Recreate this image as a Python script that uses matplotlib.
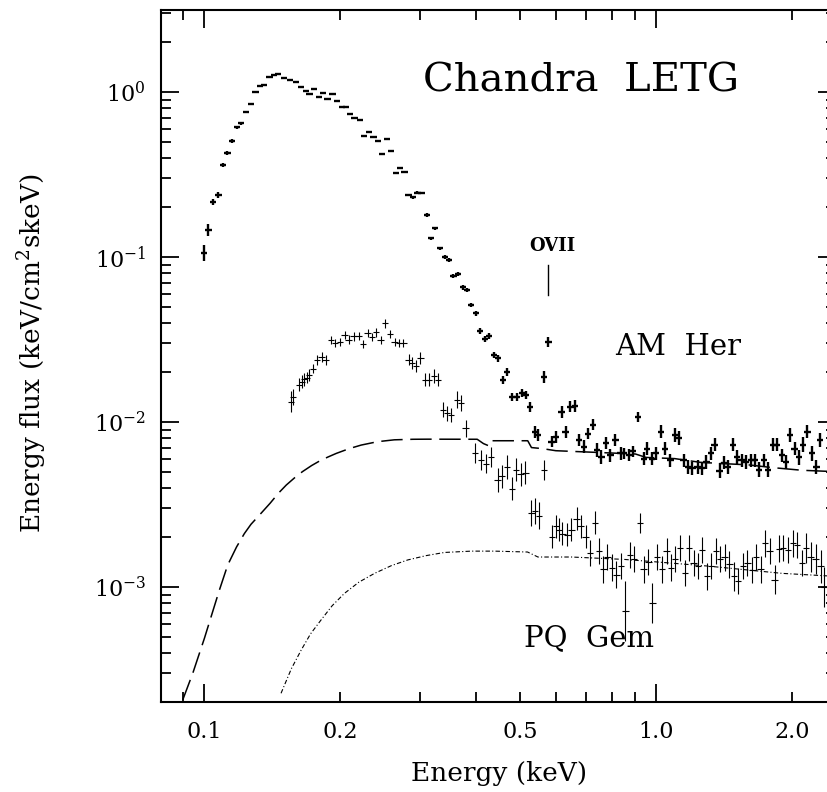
import matplotlib
matplotlib.use("Agg")
import matplotlib.pyplot as plt
import numpy as np
from matplotlib.ticker import FixedLocator, NullFormatter, LogFormatterMathtext, LogLocator

plt.rcParams['font.family'] = ['DejaVu Serif']
plt.rcParams['mathtext.fontset'] = 'dejavuserif'

# --- AM Her spectrum (keV, keV/cm^2 s keV), errors in dex
am_E = [0.100, 0.1022, 0.1048, 0.1076, 0.1100, 0.1126, 0.1153, 0.1181, 0.1207, 0.1236,
        0.1268, 0.1299, 0.1330, 0.1358, 0.1395, 0.1428, 0.1457, 0.1502, 0.1549, 0.1598,
        0.1639, 0.1678, 0.1710, 0.1751, 0.1794, 0.1831, 0.1874, 0.1923, 0.1966, 0.2016,
        0.2057, 0.2102, 0.2152, 0.2212, 0.2257, 0.2314, 0.2369, 0.2422, 0.2478, 0.2536,
        0.2589, 0.2656, 0.2715, 0.2775, 0.2832, 0.2895, 0.2964, 0.3027, 0.3108, 0.3178,
        0.3246, 0.3328, 0.3414, 0.3484, 0.3562, 0.3641, 0.3735, 0.3822, 0.3894, 0.3994,
        0.4076, 0.4181, 0.4273, 0.4376, 0.4473, 0.4589, 0.4683, 0.4797, 0.4930, 0.5042,
        0.5155, 0.5263, 0.5391, 0.5482, 0.5655, 0.5780, 0.5870, 0.6000, 0.6178, 0.6305,
        0.6465, 0.6607, 0.6742, 0.6916, 0.7069, 0.7240, 0.7404, 0.7570, 0.7752, 0.7926,
        0.8129, 0.8341, 0.8481, 0.8697, 0.8877, 0.9125, 0.9391, 0.9556, 0.9800, 1.000,
        1.026, 1.045, 1.076, 1.103, 1.125, 1.150, 1.175, 1.203, 1.235, 1.265,
        1.292, 1.321, 1.347, 1.382, 1.412, 1.441, 1.477, 1.510, 1.545, 1.579,
        1.619, 1.652, 1.688, 1.731, 1.768, 1.813, 1.850, 1.896, 1.937, 1.980,
        2.024, 2.068, 2.116, 2.162, 2.215, 2.262, 2.307]
am_F = [0.106, 0.146, 0.216, 0.238, 0.361, 0.429, 0.505, 0.611, 0.646, 0.760,
        0.846, 1.00, 1.087, 1.10, 1.24, 1.27, 1.29, 1.21, 1.18, 1.145,
        1.07, 1.02, 0.972, 1.04, 0.929, 0.990, 0.903, 0.968, 0.886, 0.815,
        0.815, 0.733, 0.693, 0.677, 0.544, 0.570, 0.537, 0.505, 0.421, 0.517,
        0.437, 0.322, 0.345, 0.329, 0.237, 0.230, 0.245, 0.244, 0.180, 0.130,
        0.149, 0.113, 0.100, 0.0963, 0.0767, 0.0790, 0.0655, 0.0631, 0.0512, 0.0456,
        0.0358, 0.0317, 0.0333, 0.0255, 0.0243, 0.0180, 0.0202, 0.0142, 0.0142, 0.0150,
        0.0146, 0.0124, 0.00873, 0.00834, 0.0188, 0.0307, 0.0076, 0.0081, 0.01154, 0.00873,
        0.0124, 0.01254, 0.00778, 0.00709, 0.00851, 0.00963, 0.00676, 0.00613, 0.00746, 0.00630,
        0.00778, 0.00646, 0.00646, 0.00630, 0.00663, 0.01078, 0.00600, 0.00690, 0.00600, 0.00646,
        0.00873, 0.00690, 0.00587, 0.00834, 0.00799, 0.00587, 0.00534, 0.00523, 0.00534, 0.00523,
        0.00573, 0.00646, 0.00727, 0.00508, 0.00566, 0.00534, 0.00727, 0.00613, 0.00587, 0.00573,
        0.00587, 0.00587, 0.00513, 0.00587, 0.00513, 0.00727, 0.00727, 0.00630, 0.00573, 0.00834,
        0.00690, 0.00613, 0.00727, 0.00873, 0.00646, 0.00534, 0.00778]
am_err = [0.05, 0.035, 0.02, 0.02, 0.015, 0.012, 0.010, 0.008, 0.008, 0.006,
          0.005, 0.004, 0.004, 0.004, 0.004, 0.004, 0.004, 0.004, 0.004, 0.004,
          0.004, 0.004, 0.004, 0.004, 0.004, 0.004, 0.004, 0.004, 0.004, 0.004,
          0.004, 0.004, 0.004, 0.005, 0.005, 0.005, 0.005, 0.005, 0.006, 0.006,
          0.006, 0.007, 0.007, 0.007, 0.008, 0.008, 0.008, 0.008, 0.010, 0.010,
          0.010, 0.010, 0.012, 0.012, 0.012, 0.012, 0.014, 0.014, 0.015, 0.015,
          0.018, 0.018, 0.018, 0.020, 0.020, 0.025, 0.025, 0.025, 0.025, 0.025,
          0.025, 0.030, 0.035, 0.035, 0.035, 0.030, 0.035, 0.035, 0.035, 0.035,
          0.035, 0.035, 0.035, 0.040, 0.035, 0.035, 0.040, 0.040, 0.035, 0.040,
          0.035, 0.040, 0.035, 0.035, 0.035, 0.030, 0.040, 0.040, 0.040, 0.040,
          0.040, 0.040, 0.040, 0.040, 0.040, 0.040, 0.040, 0.040, 0.040, 0.040,
          0.040, 0.040, 0.040, 0.045, 0.040, 0.040, 0.040, 0.040, 0.040, 0.040,
          0.040, 0.040, 0.045, 0.040, 0.045, 0.040, 0.040, 0.040, 0.040, 0.040,
          0.040, 0.045, 0.045, 0.040, 0.045, 0.045, 0.045]

# --- PQ Gem spectrum
pq_E = [0.1556, 0.1575, 0.1624, 0.1644, 0.1665, 0.1687, 0.1707, 0.1739, 0.1780, 0.1820,
        0.1857, 0.1906, 0.1949, 0.2000, 0.2045, 0.2087, 0.2141, 0.2197, 0.2246, 0.2300,
        0.2350, 0.2401, 0.2458, 0.2511, 0.2575, 0.2640, 0.2697, 0.2760, 0.2834, 0.2881,
        0.2939, 0.3011, 0.3085, 0.3146, 0.3224, 0.3292, 0.3374, 0.3448, 0.3518, 0.3624,
        0.3697, 0.3790, 0.3976, 0.4097, 0.4202, 0.4310, 0.4460, 0.4553, 0.4675, 0.4797,
        0.4905, 0.5015, 0.5138, 0.5297, 0.5405, 0.5507, 0.5649, 0.5891, 0.5995, 0.6101,
        0.6206, 0.6364, 0.6494, 0.6669, 0.6808, 0.6983, 0.7140, 0.7314, 0.7480, 0.7645,
        0.7800, 0.7990, 0.8170, 0.8365, 0.8549, 0.8741, 0.8948, 0.9225, 0.9380, 0.9617,
        0.9815, 1.003, 1.029, 1.055, 1.077, 1.101, 1.129, 1.157, 1.182, 1.210,
        1.237, 1.264, 1.295, 1.324, 1.358, 1.386, 1.417, 1.453, 1.489, 1.520,
        1.558, 1.592, 1.633, 1.666, 1.703, 1.741, 1.782, 1.829, 1.868, 1.911,
        1.957, 2.005, 2.051, 2.103, 2.148, 2.197, 2.253, 2.311, 2.350]
pq_F = [0.01327, 0.01416, 0.01686, 0.01754, 0.0181, 0.0186, 0.0192, 0.0211, 0.0239, 0.0249,
        0.0239, 0.0314, 0.0301, 0.0307, 0.0338, 0.0316, 0.0330, 0.0333, 0.0297, 0.0345,
        0.0328, 0.0349, 0.0314, 0.0396, 0.0340, 0.0307, 0.0302, 0.0301, 0.0239, 0.0228,
        0.0218, 0.0245, 0.0180, 0.0180, 0.0190, 0.0180, 0.01186, 0.01130, 0.01103, 0.01368,
        0.01304, 0.00914, 0.00650, 0.00587, 0.00560, 0.00613, 0.00445, 0.00468, 0.00534, 0.00395,
        0.00513, 0.00481, 0.00493, 0.00280, 0.00289, 0.00271, 0.00513, 0.00202, 0.00233, 0.00223,
        0.00211, 0.00207, 0.00223, 0.00259, 0.00233, 0.00202, 0.00161, 0.00245, 0.00165, 0.00128,
        0.00152, 0.00131, 0.00119, 0.00134, 0.000716, 0.00156, 0.00148, 0.00245, 0.00128, 0.00142,
        0.000802, 0.00152, 0.00128, 0.00165, 0.00131, 0.00148, 0.00173, 0.00122, 0.00173, 0.00140,
        0.00134, 0.00168, 0.00116, 0.00134, 0.00165, 0.00148, 0.00151, 0.00137, 0.00116, 0.00109,
        0.00134, 0.00140, 0.00127, 0.00152, 0.00128, 0.00184, 0.00165, 0.00111, 0.00171, 0.00173,
        0.00168, 0.00184, 0.00180, 0.00140, 0.00173, 0.00152, 0.00148, 0.00134, 0.00100]
pq_err = [0.065, 0.05, 0.04, 0.04, 0.04, 0.035, 0.035, 0.03, 0.03, 0.03,
          0.03, 0.025, 0.025, 0.025, 0.025, 0.025, 0.025, 0.025, 0.025, 0.025,
          0.025, 0.025, 0.025, 0.025, 0.025, 0.025, 0.025, 0.025, 0.035, 0.035,
          0.035, 0.035, 0.04, 0.04, 0.04, 0.04, 0.045, 0.045, 0.045, 0.05,
          0.05, 0.05, 0.06, 0.06, 0.06, 0.06, 0.07, 0.07, 0.07, 0.07,
          0.07, 0.07, 0.07, 0.08, 0.08, 0.08, 0.06, 0.07, 0.07, 0.07,
          0.07, 0.07, 0.07, 0.07, 0.07, 0.07, 0.08, 0.07, 0.08, 0.08,
          0.08, 0.08, 0.08, 0.08, 0.18, 0.08, 0.08, 0.06, 0.08, 0.08,
          0.12, 0.08, 0.08, 0.08, 0.08, 0.08, 0.08, 0.08, 0.08, 0.08,
          0.08, 0.08, 0.08, 0.08, 0.08, 0.08, 0.08, 0.08, 0.09, 0.08,
          0.08, 0.08, 0.08, 0.08, 0.08, 0.08, 0.08, 0.09, 0.08, 0.08,
          0.08, 0.08, 0.08, 0.08, 0.09, 0.09, 0.09, 0.10, 0.12]

# --- model curves
am_mod_E = [0.0897, 0.0944, 0.1002, 0.1053, 0.1080, 0.1128, 0.1180, 0.1228, 0.1270, 0.1337,
            0.1400, 0.1460, 0.1520, 0.1584, 0.1650, 0.1730, 0.1800, 0.1878, 0.1960, 0.2050,
            0.2140, 0.2227, 0.2420, 0.2636, 0.2900, 0.312, 0.402, 0.415, 0.425, 0.430,
            0.52, 0.53, 0.56, 0.60, 0.90, 0.95, 1.10, 1.25, 1.40, 1.60, 1.80, 2.10, 2.50]
am_mod_F = [0.000207, 0.000300, 0.000490, 0.000760, 0.000950, 0.00136, 0.00175, 0.00211, 0.00240, 0.00280,
            0.00322, 0.00370, 0.00415, 0.00458, 0.00500, 0.00545, 0.00580, 0.00613, 0.00645, 0.00675,
            0.00702, 0.00725, 0.00760, 0.00780, 0.00786, 0.00787, 0.00786, 0.00740, 0.00720, 0.00770,
            0.00770, 0.00700, 0.00690, 0.00670, 0.00640, 0.00610, 0.00600, 0.00570, 0.00560, 0.00550,
            0.00530, 0.00510, 0.00500]
pq_mod_E = [0.148, 0.156, 0.164, 0.172, 0.1815, 0.192, 0.2043, 0.220, 0.2383, 0.260,
            0.2824, 0.310, 0.3403, 0.39, 0.4391, 0.5195, 0.5478, 0.65, 0.85, 1.0,
            1.3, 1.9, 2.5]
pq_mod_F = [0.000227, 0.000320, 0.000415, 0.000520, 0.000632, 0.000770, 0.000914, 0.00107, 0.00121, 0.00135,
            0.00146, 0.00155, 0.00162, 0.00165, 0.00165, 0.00163, 0.00152, 0.00152, 0.00147, 0.00142,
            0.00134, 0.00121, 0.00116]

BIN_DEX = 0.007  # half bin width in log E


def draw_spectrum(ax, E, F, err, lw):
    E = np.array(E)
    F = np.array(F)
    err = np.array(err)
    ylo = F - F * 10 ** (-err)
    yhi = F * 10 ** err - F
    xlo = E - E * 10 ** (-BIN_DEX)
    xhi = E * 10 ** BIN_DEX - E
    ax.errorbar(E, F, yerr=[ylo, yhi], xerr=[xlo, xhi], fmt='none',
                ecolor='black', elinewidth=lw, capsize=0)


fig = plt.figure(figsize=(8.27, 7.92), dpi=100)
ax = fig.add_axes([161 / 827, 1 - 702 / 792, (836 - 161) / 827, (702 - 10) / 792])

draw_spectrum(ax, am_E, am_F, am_err, 1.7)
draw_spectrum(ax, pq_E, pq_F, pq_err, 0.8)

ax.plot(am_mod_E, am_mod_F, color='black', lw=1.1, dashes=(14, 5))
ax.plot(pq_mod_E, pq_mod_F, color='black', lw=0.8, dashes=(4, 2, 1, 2))

ax.set_xscale('log')
ax.set_yscale('log')
ax.set_xlim(0.0803, 2.50)
ax.set_ylim(2.01e-4, 3.14)

# x ticks
ax.xaxis.set_major_locator(FixedLocator([0.1, 1.0]))
ax.xaxis.set_minor_locator(FixedLocator([0.09, 0.2, 0.3, 0.4, 0.5, 0.6, 0.7, 0.8, 0.9, 2.0]))
ax.xaxis.set_major_formatter(NullFormatter())
ax.xaxis.set_minor_formatter(NullFormatter())
for xv, lab in zip([0.1, 0.2, 0.5, 1.0, 2.0], ['0.1', '0.2', '0.5', '1.0', '2.0']):
    ax.text(xv, -0.028, lab, transform=ax.get_xaxis_transform(), ha='center', va='top',
            fontsize=16)

ax.yaxis.set_major_locator(LogLocator(base=10, numticks=10))
ax.yaxis.set_minor_locator(LogLocator(base=10, subs=np.arange(2, 10), numticks=20))
ax.yaxis.set_major_formatter(LogFormatterMathtext())
ax.yaxis.set_minor_formatter(NullFormatter())

ax.tick_params(which='both', direction='in', top=True, right=True, width=1.3)
ax.tick_params(which='major', length=13, labelsize=16, pad=11)
ax.tick_params(which='minor', length=7.5)
for sp in ax.spines.values():
    sp.set_linewidth(1.5)

fig.text(499 / 827, 1 - 773 / 792, 'Energy (keV)', ha='center', va='center', fontsize=19)
fig.text(32 / 827, 1 - 353 / 792, 'Energy flux (keV/cm$^2$skeV)', ha='center', va='center',
         rotation=90, fontsize=19)

fig.text(581 / 827, 1 - 81 / 792, 'Chandra  LETG', ha='center', va='center', fontsize=29)
fig.text(678 / 827, 1 - 347 / 792, 'AM  Her', ha='center', va='center', fontsize=21)
fig.text(589 / 827, 1 - 638 / 792, 'PQ  Gem', ha='center', va='center', fontsize=21)
fig.text(552 / 827, 1 - 246 / 792, 'OVII', ha='center', va='center', fontsize=13,
         fontweight='bold')
ax.plot([0.5768, 0.5768], [0.0895, 0.0589], color='black', lw=1.0)

fig.savefig('out.png', dpi=100)
